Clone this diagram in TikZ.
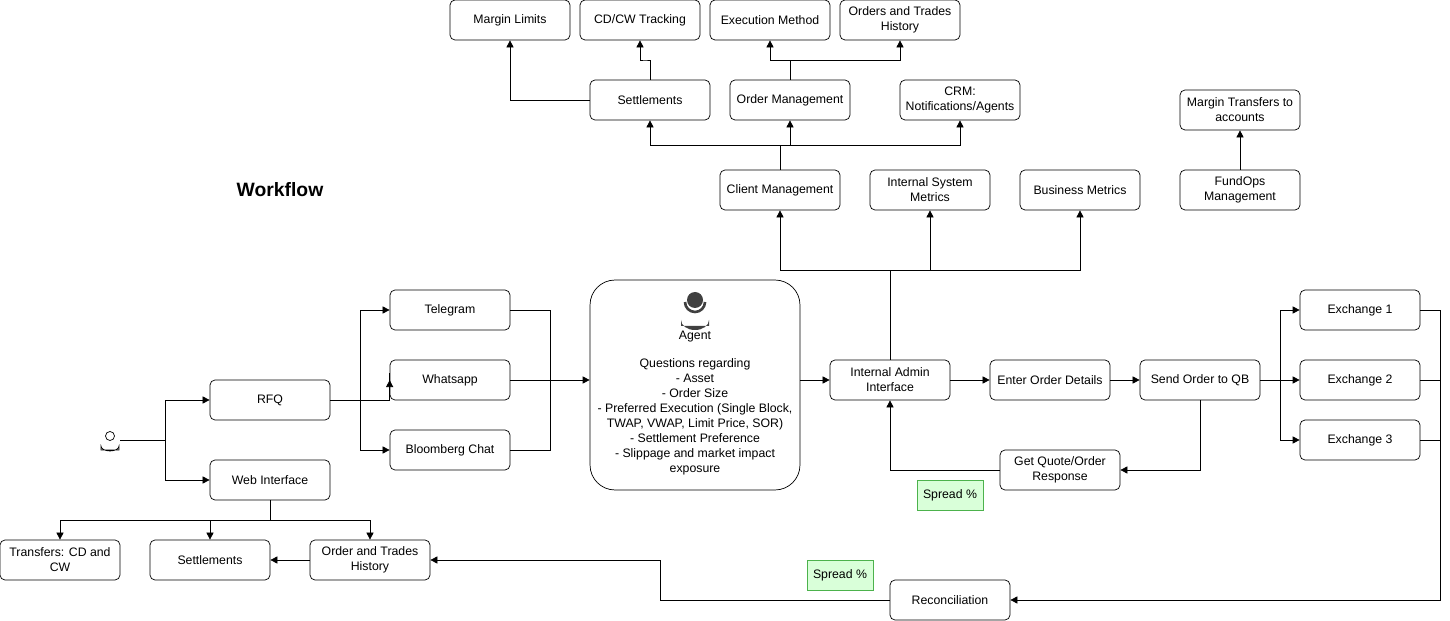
\documentclass[tikz,border=0pt]{standalone}
\usepackage{fontspec}
\setmainfont{Liberation Sans}
\usetikzlibrary{arrows.meta}
\tikzstyle{box}=[rectangle, draw, thin, rounded corners=0.1cm, fill=white, minimum width=2.4cm, minimum height=0.8cm, align=center, inner sep=1pt, font=\fontsize{7}{8.5}\selectfont]
\tikzstyle{spread}=[rectangle, draw=green!40!gray, thin, fill=green!15, minimum width=1.2cm, minimum height=0.6cm, font=\fontsize{7}{8.5}\selectfont]
\tikzstyle{conn}=[thin, -{Triangle[length=4pt,width=4pt]}]
\begin{document}
\begin{tikzpicture}[x=0.02cm, y=-0.02cm]
\useasboundingbox (0,0) rectangle (1450,621);

% top row
\node[box] (ml) at (510,20) {Margin Limits};
\node[box] (cdcw) at (640,20) {CD/CW Tracking};
\node[box] (exm) at (770,20) {Execution Method};
\node[box] (oth) at (900,20) {Orders and Trades\\History};
\node[box] (set) at (650,100) {Settlements};
\node[box] (om) at (790,100) {Order Management};
\node[box] (crm) at (960,100) {CRM:\\Notifications/Agents};
\node[box] (cm) at (780,190) {Client Management};
\node[box] (ism) at (930,190) {Internal System\\Metrics};
\node[box] (bm) at (1080,190) {Business Metrics};
\node[box] (mt) at (1240,110) {Margin Transfers to\\accounts};
\node[box] (fo) at (1240,190) {FundOps\\Management};
\node[font=\fontsize{11}{13}\selectfont\bfseries] (wf) at (280,190) {Workflow};

% channels
\node[box] (tg) at (450,310) {Telegram};
\node[box] (wa) at (450,380) {Whatsapp};
\node[box] (bc) at (450,450) {Bloomberg Chat};
\node[box] (rfq) at (270,400) {RFQ};
\node[box] (web) at (270,480) {Web Interface};

% user
\coordinate (user) at (120,440);
\draw[thin] (110,436) circle (4.5);
\draw[thin] (101,450) -- (101,446) arc (180:0:9 and 5) -- (119,450) -- cycle;

% agent
\node[box, minimum width=4.2cm, minimum height=4.2cm, rounded corners=0.5cm] (ag) at (695,385) {};
\fill[black!75] (695,300) circle (8);
\draw[black!75, line width=1.5pt] (685,302) arc (180:0:10);
\fill[black!75] (681,326) -- (681,320) arc (180:0:14 and 10) -- (709,326) -- cycle;
\node[font=\fontsize{7}{8.5}\selectfont] (agl) at (695,337) {Agent};
\node[font=\fontsize{7}{8.5}\selectfont, align=center] (agt) at (695,417) {Questions regarding\\- Asset\\- Order Size\\- Preferred Execution (Single Block,\\TWAP, VWAP, Limit Price, SOR)\\- Settlement Preference\\- Slippage and market impact\\exposure};

% order flow
\node[box] (adm) at (890,380) {Internal Admin\\Interface};
\node[box] (eod) at (1050,380) {Enter Order Details};
\node[box] (qb) at (1200,380) {Send Order to QB};
\node[box] (gq) at (1060,470) {Get Quote/Order\\Response};
\node[spread] (sp1) at (950,495) {Spread \%};
\node[box] (ex1) at (1360,310) {Exchange 1};
\node[box] (ex2) at (1360,380) {Exchange 2};
\node[box] (ex3) at (1360,440) {Exchange 3};

% bottom
\node[box] (tr) at (60,560) {Transfers: CD and\\CW};
\node[box] (set2) at (210,560) {Settlements};
\node[box] (oth2) at (370,560) {Order and Trades\\History};
\node[spread] (sp2) at (840,575) {Spread \%};
\node[box] (rec) at (950,600) {Reconciliation};

% connectors top
\draw[conn] (set.west) -| (ml.south);
\draw[conn] (set.north) |- (645,60) -| (cdcw.south);
\draw[conn] (om.north) |- (770,60) -| (exm.south);
\draw[conn] (om.north) |- (900,60) -| (oth.south);
\draw[conn] (cm.north) |- (650,145) -| (set.south);
\draw[conn] (cm.north) |- (790,145) -| (om.south);
\draw[conn] (cm.north) |- (960,145) -| (crm.south);
\draw[conn] (adm.north) |- (780,270) -| (cm.south);
\draw[conn] (adm.north) |- (930,270) -| (ism.south);
\draw[conn] (adm.north) |- (1080,270) -| (bm.south);
\draw[conn] (fo) -- (mt);

% connectors left
\draw[conn] (user) -| (165,400) -- (rfq.west);
\draw[conn] (user) -| (165,480) -- (web.west);
\draw[conn] (rfq.east) -| (360,310) -- (tg.west);
\draw[conn] (rfq.east) -- (wa.west |- rfq.east) |- (wa.west);
\draw[conn] (rfq.east) -| (360,450) -- (bc.west);
\draw[thin] (tg.east) -| (550,450) -- (bc.east);
\draw[thin] (wa.east) -- (550,380);
\draw[conn] (550,380) -- (ag.west |- 550,380);

% connectors order flow
\draw[conn] (ag.east |- adm.west) -- (adm.west);
\draw[conn] (adm) -- (eod);
\draw[conn] (eod) -- (qb);
\draw[conn] (qb.south) |- (gq.east);
\draw[conn] (gq.west) -| (adm.south);
\draw[conn] (qb.east) -| (1280,310) -- (ex1.west);
\draw[conn] (qb.east) -- (ex2.west);
\draw[conn] (qb.east) -| (1280,440) -- (ex3.west);
\draw[thin] (ex1.east) -| (1440,440) -- (ex3.east);
\draw[thin] (ex2.east) -- (1440,380);
\draw[conn] (1440,440) |- (rec.east);
\draw[conn] (rec.west) -| (660,560) -- (oth2.east);

% connectors bottom
\draw[conn] (oth2) -- (set2);
\draw[conn] (web.south) |- (60,520) -- (tr.north);
\draw[conn] (web.south) |- (210,520) -- (set2.north);
\draw[conn] (web.south) |- (370,520) -- (oth2.north);

\end{tikzpicture}
\end{document}
